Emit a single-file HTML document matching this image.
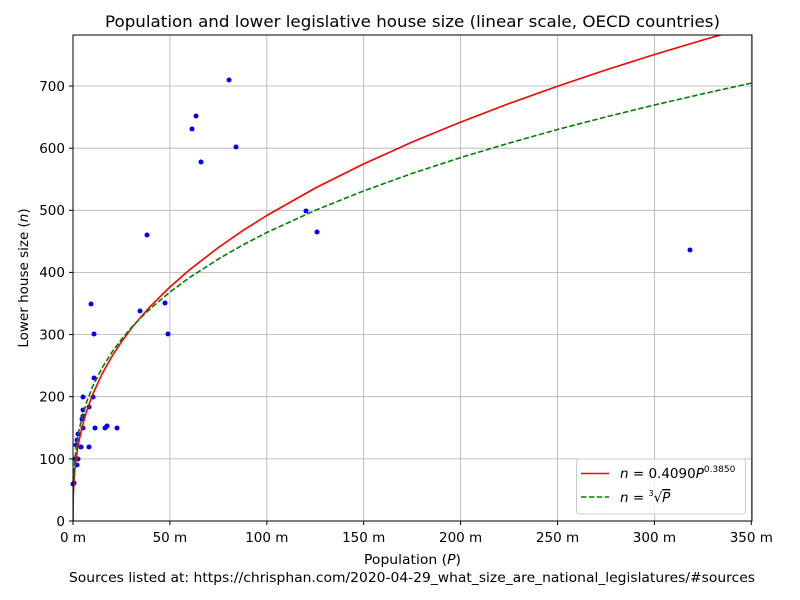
<!DOCTYPE html>
<html><head><style>body{margin:0;background:#fff}svg{display:block;font-family:"DejaVu Sans","Liberation Sans",sans-serif}</style></head><body>
<svg width="800" height="600" xmlns="http://www.w3.org/2000/svg">
<defs><clipPath id="c"><rect x="73" y="35" width="679" height="486"/></clipPath></defs>
<rect width="800" height="600" fill="#fff"/>
<g stroke="#b0b0b0" stroke-width="0.8">
<line x1="73" y1="35" x2="73" y2="521"/><line x1="169.9" y1="35" x2="169.9" y2="521"/><line x1="266.8" y1="35" x2="266.8" y2="521"/><line x1="363.7" y1="35" x2="363.7" y2="521"/><line x1="460.6" y1="35" x2="460.6" y2="521"/><line x1="557.5" y1="35" x2="557.5" y2="521"/><line x1="654.4" y1="35" x2="654.4" y2="521"/><line x1="751.3" y1="35" x2="751.3" y2="521"/>
<line x1="73" y1="458.9" x2="752" y2="458.9"/><line x1="73" y1="396.7" x2="752" y2="396.7"/><line x1="73" y1="334.6" x2="752" y2="334.6"/><line x1="73" y1="272.4" x2="752" y2="272.4"/><line x1="73" y1="210.3" x2="752" y2="210.3"/><line x1="73" y1="148.2" x2="752" y2="148.2"/><line x1="73" y1="86" x2="752" y2="86"/>
</g>
<g fill="#0000ff">
<circle cx="73" cy="484" r="2.5"/><circle cx="74" cy="483" r="2.5"/><circle cx="75" cy="459" r="2.5"/><circle cx="78" cy="459" r="2.5"/><circle cx="77" cy="465" r="2.5"/><circle cx="81" cy="447" r="2.5"/><circle cx="89" cy="447" r="2.5"/><circle cx="78" cy="434" r="2.5"/><circle cx="83" cy="428" r="2.5"/><circle cx="95" cy="428" r="2.5"/><circle cx="105" cy="428" r="2.5"/><circle cx="107" cy="426" r="2.5"/><circle cx="117" cy="428" r="2.5"/><circle cx="82" cy="419" r="2.5"/><circle cx="83" cy="416" r="2.5"/><circle cx="83" cy="410" r="2.5"/><circle cx="89" cy="407" r="2.5"/><circle cx="83" cy="397" r="2.5"/><circle cx="93" cy="397" r="2.5"/><circle cx="94" cy="378" r="2.5"/><circle cx="91" cy="304" r="2.5"/><circle cx="94" cy="334" r="2.5"/><circle cx="140" cy="311" r="2.5"/><circle cx="165" cy="303" r="2.5"/><circle cx="168" cy="334" r="2.5"/><circle cx="147" cy="235" r="2.5"/><circle cx="192" cy="129" r="2.5"/><circle cx="196" cy="116" r="2.5"/><circle cx="229" cy="80" r="2.5"/><circle cx="201" cy="162" r="2.5"/><circle cx="236" cy="147" r="2.5"/><circle cx="306" cy="211" r="2.5"/><circle cx="317" cy="232" r="2.5"/><circle cx="690" cy="250" r="2.5"/><circle cx="76" cy="445" r="2.5"/><circle cx="77" cy="440" r="2.5"/>
</g>
<g clip-path="url(#c)" fill="none" stroke-width="1.6" stroke-linejoin="round">
<polyline stroke="#ff0000" points="73,521 73,517.4 73.02,512.2 73.06,507.6 73.19,499.6 73.5,490.6 74,481.2 74.9,469.1 76.9,453.3 78.8,441.8 82.7,424.6 86.6,411.3 92.4,395 102.1,373.8 111.8,356.6 121.5,341.8 131.1,328.8 140.8,317.1 150.5,306.2 169.9,287 189.3,270 218.4,247.5 242.6,230.7 266.8,215.5 315.3,188 363.7,163.9 412.2,142 460.6,122.1 509.1,103.5 557.5,86.2 606,69.9 654.4,54.5 702.9,40 751.3,26.1"/>
<polyline stroke="#008000" stroke-dasharray="5.5,2.4" points="73,521 73,514.8 73.02,507.6 73.06,501.7 73.19,492.2 73.5,481.9 74,471.7 74.9,458.9 76.9,442.7 78.8,431.4 82.7,414.7 86.6,402.1 92.4,387.2 102.1,367.8 111.8,352.4 121.5,339.3 131.1,327.9 140.8,317.7 150.5,308.5 169.9,292.1 189.3,277.7 218.4,259 242.6,245.1 266.8,232.5 315.3,210.3 363.7,190.9 412.2,173.4 460.6,157.6 509.1,143.1 557.5,129.5 606,116.9 654.4,105 702.9,93.8 751.3,83.1"/>
</g>
<rect x="73" y="35" width="679" height="486" fill="none" stroke="#000" stroke-width="1"/>
<g stroke="#000"><line x1="73" y1="521" x2="73" y2="525"/><line x1="169.9" y1="521" x2="169.9" y2="525"/><line x1="266.8" y1="521" x2="266.8" y2="525"/><line x1="363.7" y1="521" x2="363.7" y2="525"/><line x1="460.6" y1="521" x2="460.6" y2="525"/><line x1="557.5" y1="521" x2="557.5" y2="525"/><line x1="654.4" y1="521" x2="654.4" y2="525"/><line x1="751.3" y1="521" x2="751.3" y2="525"/>
<line x1="69" y1="521" x2="73" y2="521"/><line x1="69" y1="458.9" x2="73" y2="458.9"/><line x1="69" y1="396.7" x2="73" y2="396.7"/><line x1="69" y1="334.6" x2="73" y2="334.6"/><line x1="69" y1="272.4" x2="73" y2="272.4"/><line x1="69" y1="210.3" x2="73" y2="210.3"/><line x1="69" y1="148.2" x2="73" y2="148.2"/><line x1="69" y1="86" x2="73" y2="86"/></g>
<g font-size="13.5" text-anchor="middle" fill="#000">
<text x="73" y="542">0 m</text><text x="169.9" y="542">50 m</text><text x="266.8" y="542">100 m</text><text x="363.7" y="542">150 m</text><text x="460.6" y="542">200 m</text><text x="557.5" y="542">250 m</text><text x="654.4" y="542">300 m</text><text x="751.3" y="542">350 m</text>
</g>
<g font-size="13.5" text-anchor="end">
<text x="65" y="526">0</text><text x="65" y="464">100</text><text x="65" y="401.5">200</text><text x="65" y="339.5">300</text><text x="65" y="277">400</text><text x="65" y="215">500</text><text x="65" y="153">600</text><text x="65" y="91">700</text>
</g>
<text x="364" y="564" font-size="13.5" textLength="97" lengthAdjust="spacingAndGlyphs">Population (<tspan font-style="italic">P</tspan>)</text>
<text x="69" y="582" font-size="13.5" textLength="686" lengthAdjust="spacingAndGlyphs">Sources listed at: https://chrisphan.com/2020-04-29_what_size_are_national_legislatures/#sources</text>
<text transform="translate(28,278) rotate(-90)" font-size="13.5" text-anchor="middle">Lower house size (<tspan font-style="italic">n</tspan>)</text>
<text x="105" y="27" font-size="16" textLength="615" lengthAdjust="spacingAndGlyphs">Population and lower legislative house size (linear scale, OECD countries)</text>
<rect x="576.5" y="459" width="169" height="55" rx="3" fill="#fff" fill-opacity="0.8" stroke="#ccc"/>
<line x1="581" y1="473.5" x2="609" y2="473.5" stroke="#ff0000" stroke-width="1.6"/>
<line x1="581" y1="497" x2="609" y2="497" stroke="#008000" stroke-width="1.6" stroke-dasharray="5.5,2.4"/>
<text x="620" y="478" font-size="13.5"><tspan font-style="italic">n</tspan> = 0.4090<tspan font-style="italic">P</tspan><tspan font-size="9" dy="-6">0.3850</tspan></text>
<text x="620" y="502" font-size="13.5"><tspan font-style="italic">n</tspan> = <tspan font-size="8" dy="-6">3</tspan><tspan dy="6">√</tspan><tspan font-style="italic" text-decoration="overline">P</tspan></text>
</svg>
</body></html>
